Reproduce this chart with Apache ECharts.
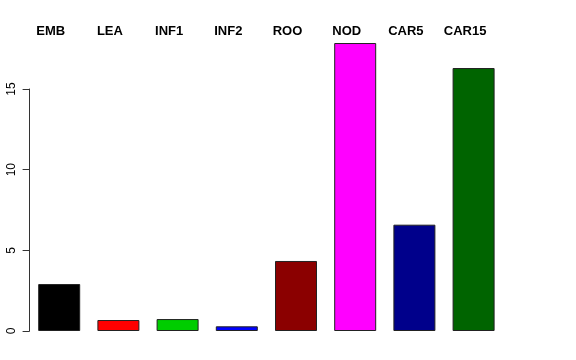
<!DOCTYPE html>
<html><head><meta charset="utf-8">
<script src="https://cdn.jsdelivr.net/npm/echarts@6/dist/echarts.min.js"></script>
<style>html,body{margin:0;padding:0;background:#fff}#c{width:576px;height:360px}</style>
</head><body><div id="c"></div>
<script>
var categories = ["EMB","LEA","INF1","INF2","ROO","NOD","CAR5","CAR15"];
var values = [2.91, 0.68, 0.74, 0.29, 4.34, 17.85, 6.59, 16.3];
var colors = ["#000000","#FF0000","#00CD00","#0000FF","#8B0000","#FF00FF","#00008B","#006400"];
var yTicks = [0, 5, 10, 15];

var chart = echarts.init(document.getElementById('c'), null, {renderer:'canvas'});
chart.setOption({
  animation:false,
  backgroundColor:'#fff',
  grid:{left:29.6, width:473.6, top:89, bottom:29},
  xAxis:{type:'category', data:categories, position:'top',
    axisLine:{show:false}, axisTick:{show:false},
    axisLabel:{margin:51, fontFamily:'Liberation Sans', fontWeight:'bold', fontSize:13, color:'#000', padding:[0,17,0,0]}},
  yAxis:{type:'value', min:0, max:15, interval:5,
    axisLine:{show:true, lineStyle:{color:'#333', width:1}},
    axisTick:{show:true, length:7, lineStyle:{color:'#333'}},
    splitLine:{show:false},
    axisLabel:{rotate:90, margin:12, fontFamily:'Liberation Sans', fontSize:12, color:'#000',
      formatter:function(v){return yTicks.indexOf(v)>=0? String(v):'';}}},
  series:[{type:'bar', clip:false, barWidth:42,
    data:values.map(function(v,i){return {value:v, itemStyle:{color:colors[i]}};}),
    itemStyle:{borderColor:'#222', borderWidth:1}}]
});
</script></body></html>
